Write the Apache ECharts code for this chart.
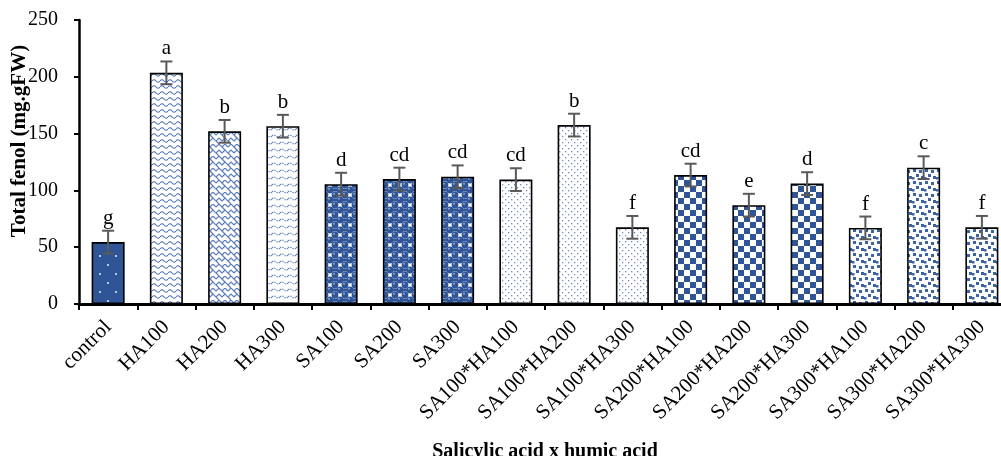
<!DOCTYPE html>
<html>
<head>
<meta charset="utf-8">
<script src="https://cdn.jsdelivr.net/npm/echarts@6/dist/echarts.min.js"></script>
<style>html,body{margin:0;padding:0;background:#fff}#c{width:1001px;height:456px}</style>
</head>
<body>
<div id="c"></div>
<script>
const categories = ['control','HA100','HA200','HA300','SA100','SA200','SA300','SA100*HA100','SA100*HA200','SA100*HA300','SA200*HA100','SA200*HA200','SA200*HA300','SA300*HA100','SA300*HA200','SA300*HA300'];
const values = [54.5, 203.5, 152, 156.5, 105.5, 110, 112, 109.5, 157.5, 67.5, 113.5, 87, 106, 67, 120, 67.5];
const errors = [10, 10, 10, 10, 10, 10, 10, 10, 10, 10, 10, 10, 10, 10, 10, 10];
const letters = ['g','a','b','b','d','cd','cd','cd','b','f','cd','e','d','f','c','f'];
const patternKeys = ['dotsOnBlue','waves','weave','dashWaves','spheres','spheres','spheres','fineDots','fineDots','fineDots','checker','checker','checker','squares','squares','squares'];
const yTicks = {min: 0, max: 250, interval: 50};

const BLUE = '#2F5597';
function mk(w, h, draw) {
  const c = document.createElement('canvas');
  c.width = w; c.height = h;
  const g = c.getContext('2d');
  draw(g);
  return {image: c, repeat: 'repeat'};
}
const patterns = {
  dotsOnBlue: mk(16, 18, g => {
    g.fillStyle = BLUE; g.fillRect(0,0,16,18);
    g.fillStyle = '#dfe6f3';
    g.beginPath(); g.arc(4, 4, 1.1, 0, 7); g.fill();
    g.beginPath(); g.arc(12, 13, 1.1, 0, 7); g.fill();
  }),
  waves: mk(8, 6, g => {
    g.fillStyle = '#fff'; g.fillRect(0,0,8,6);
    g.strokeStyle = '#4a6fb0'; g.lineWidth = 1.1;
    g.beginPath();
    g.moveTo(0, 3); g.quadraticCurveTo(2, 0.5, 4, 3); g.quadraticCurveTo(6, 5.5, 8, 3);
    g.stroke();
  }),
  weave: mk(12, 12, g => {
    g.fillStyle = '#fff'; g.fillRect(0,0,12,12);
    g.strokeStyle = '#5a7dbb'; g.lineWidth = 1.2;
    g.beginPath();
    g.moveTo(0, 3); g.lineTo(3, 0); g.lineTo(6, 3); g.lineTo(9, 0); g.lineTo(12, 3);
    g.moveTo(0, 9); g.lineTo(3, 6); g.lineTo(6, 9); g.lineTo(9, 6); g.lineTo(12, 9);
    g.stroke();
    g.beginPath();
    g.moveTo(6, 3); g.lineTo(9, 6);
    g.moveTo(0, 9); g.lineTo(3, 12);
    g.stroke();
  }),
  dashWaves: mk(8, 7, g => {
    g.fillStyle = '#fff'; g.fillRect(0,0,8,7);
    g.strokeStyle = '#5f80bd'; g.lineWidth = 1.1;
    g.setLineDash([1.5, 1]);
    g.beginPath();
    g.moveTo(0, 3); g.quadraticCurveTo(2, 1, 4, 3); g.quadraticCurveTo(6, 5, 8, 3);
    g.stroke();
  }),
  spheres: mk(10, 10, g => {
    g.fillStyle = '#fff'; g.fillRect(0,0,10,10);
    const ball = (x, y) => {
      g.fillStyle = BLUE; g.beginPath(); g.arc(x, y, 3.4, 0, 7); g.fill();
      g.fillStyle = '#8fa6d3'; g.beginPath(); g.arc(x-1, y-1.2, 1, 0, 7); g.fill();
    };
    ball(0,0); ball(10,0); ball(0,10); ball(10,10); ball(5,5);
    g.fillStyle = BLUE;
    g.fillRect(3, 0, 4, 1.5); g.fillRect(3, 8.5, 4, 1.5);
  }),
  fineDots: mk(6, 6, g => {
    g.fillStyle = '#fff'; g.fillRect(0,0,6,6);
    g.fillStyle = '#6c8ac4';
    g.fillRect(1, 1, 1.3, 1.3); g.fillRect(4, 4, 1.3, 1.3);
  }),
  checker: mk(12, 12, g => {
    g.fillStyle = '#fff'; g.fillRect(0,0,12,12);
    g.fillStyle = BLUE;
    g.fillRect(0,0,6,6); g.fillRect(6,6,6,6);
  }),
  squares: mk(12, 12, g => {
    g.fillStyle = '#fff'; g.fillRect(0,0,12,12);
    g.fillStyle = '#3c62a6';
    g.fillRect(1, 1, 3, 3); g.fillRect(7, 2, 3, 3);
    g.fillRect(4, 6, 3, 3); g.fillRect(9, 8, 3, 3); g.fillRect(0, 9, 2.5, 2.5);
  })
};

const barData = values.map((v, i) => ({
  value: v,
  itemStyle: {color: patterns[patternKeys[i]], borderColor: '#000', borderWidth: 1.6}
}));
const errData = values.map((v, i) => [i, v, errors[i], letters[i]]);

const chart = echarts.init(document.getElementById('c'), null, {renderer: 'canvas'});
const FONT = '"Liberation Serif", "Times New Roman", serif';
chart.setOption({
  animation: false,
  grid: {left: 79, top: 20, width: 932, height: 284, containLabel: false, outerBoundsMode: 'none'},
  xAxis: {
    type: 'category',
    data: categories,
    axisLine: {lineStyle: {color: '#000', width: 3}},
    axisTick: {show: true, length: 6, lineStyle: {color: '#000', width: 2}},
    axisLabel: {interval: 0, rotate: 45, fontFamily: FONT, fontSize: 21, color: '#000', margin: 20},
    name: 'Salicylic acid x humic acid',
    nameLocation: 'middle',
    nameGap: 138,
    nameMoveOverlap: false,
    nameTextStyle: {fontFamily: FONT, fontSize: 20, fontWeight: 'bold', color: '#000'}
  },
  yAxis: {
    type: 'value',
    min: yTicks.min, max: yTicks.max, interval: yTicks.interval,
    splitLine: {show: false},
    axisLine: {show: true, lineStyle: {color: '#000', width: 2.5}},
    axisTick: {show: true, length: 5, lineStyle: {color: '#000', width: 2}},
    axisLabel: {fontFamily: FONT, fontSize: 20, color: '#000', margin: 21},
    name: 'Total fenol (mg.gFW)',
    nameLocation: 'middle',
    nameGap: 49,
    nameMoveOverlap: false,
    nameTextStyle: {fontFamily: FONT, fontSize: 21, fontWeight: 'bold', color: '#000', padding: [0, 0, 0, 42]}
  },
  series: [
    {type: 'bar', data: barData, barWidth: 33, z: 2},
    {
      type: 'custom',
      data: errData,
      z: 5,
      renderItem: function (params, api) {
        const x = api.value(0), v = api.value(1), e = api.value(2);
        const top = api.coord([x, v + e]);
        const bot = api.coord([x, v - e]);
        const hw = 6;
        const st = {stroke: '#595959', lineWidth: 2};
        return {
          type: 'group',
          children: [
            {type: 'line', shape: {x1: top[0], y1: top[1], x2: bot[0], y2: bot[1]}, style: st},
            {type: 'line', shape: {x1: top[0]-hw, y1: top[1], x2: top[0]+hw, y2: top[1]}, style: st},
            {type: 'line', shape: {x1: bot[0]-hw, y1: bot[1], x2: bot[0]+hw, y2: bot[1]}, style: st},
            {type: 'text', x: top[0], y: top[1] - 2, style: {text: api.value(3), fontFamily: FONT, fontSize: 21, fill: '#000', textAlign: 'center', textVerticalAlign: 'bottom'}}
          ]
        };
      }
    }
  ]
});
</script>
</body>
</html>
